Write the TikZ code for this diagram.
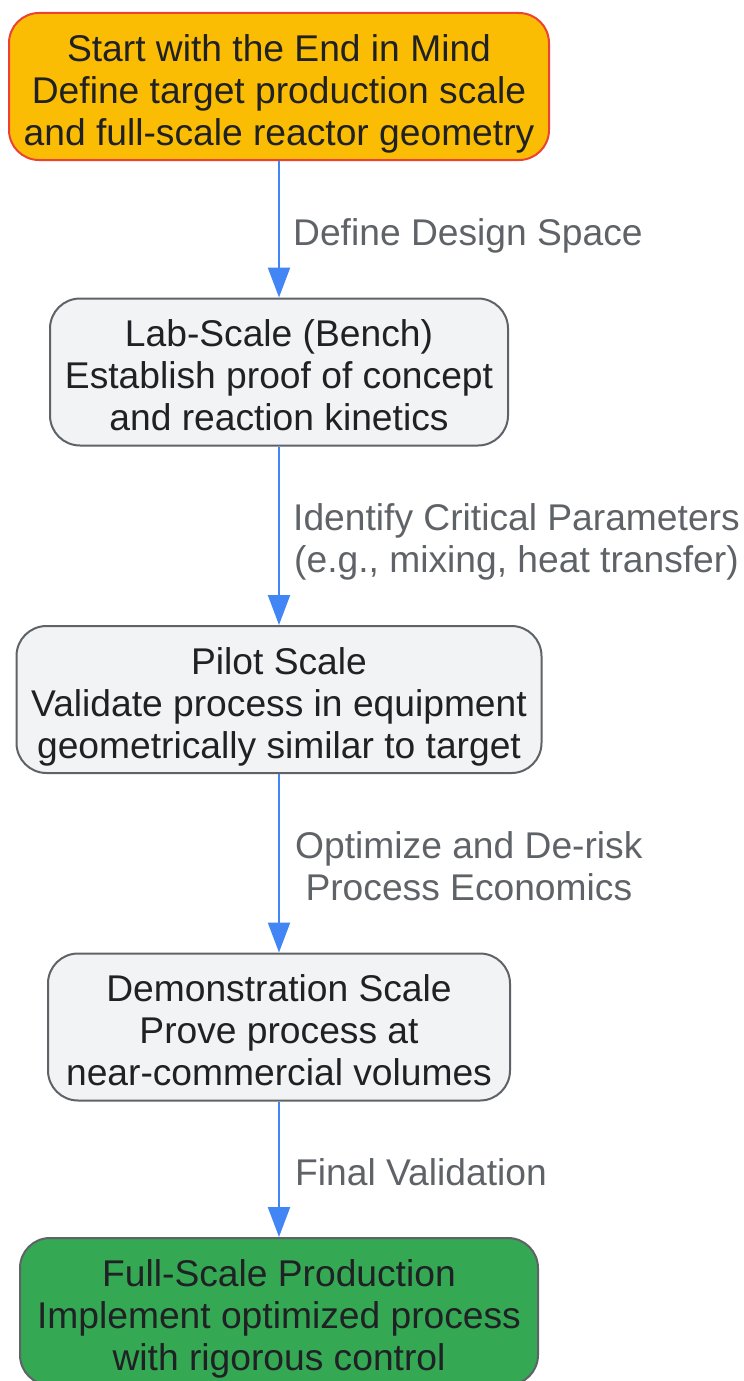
\documentclass[tikz,border=0pt]{standalone}
\usepackage{fontspec}
\setmainfont{Liberation Sans}
\usetikzlibrary{arrows.meta}
\definecolor{orangefill}{HTML}{FBBC04}
\definecolor{redborder}{HTML}{EA4335}
\definecolor{grayfill}{HTML}{F1F3F4}
\definecolor{grayborder}{HTML}{5F6368}
\definecolor{greenfill}{HTML}{34A853}
\definecolor{darktext}{HTML}{202124}
\definecolor{labeltext}{HTML}{5F6368}
\definecolor{arrowblue}{HTML}{4285F4}
\tikzset{
  box/.style={draw=grayborder, fill=grayfill, line width=2pt, rounded corners=30pt,
    align=center, text=darktext, inner sep=0pt, minimum height=147pt,
    text height=117pt, text depth=0pt,
    font=\fontsize{37.2}{42}\selectfont},
  startbox/.style={box, fill=orangefill, draw=redborder},
  endbox/.style={box, fill=greenfill},
  flow/.style={draw=arrowblue, line width=2.2pt, -{Triangle[width=22pt,length=30pt]}},
  lbl/.style={anchor=west, inner sep=0pt, align=center, text=labeltext,
    font=\fontsize{37.2}{42}\selectfont}
}
\begin{document}
\begin{tikzpicture}[x=1pt,y=-1pt]
\useasboundingbox (0,0) rectangle (744,1381);
\node[startbox, minimum width=540pt] (start) at (279,86.5)
  {Start with the End in Mind\\Define target production scale\\and full-scale reactor geometry};
\node[box, minimum width=458pt] (lab) at (279,372)
  {Lab-Scale (Bench)\\Establish proof of concept\\and reaction kinetics};
\node[box, minimum width=525pt] (pilot) at (279,699.5)
  {Pilot Scale\\Validate process in equipment\\geometrically similar to target};
\node[box, minimum width=462pt] (demo) at (279,1027)
  {Demonstration Scale\\Prove process at\\near-commercial volumes};
\node[endbox, minimum width=518pt] (full) at (279,1311.5)
  {Full-Scale Production\\Implement optimized process\\with rigorous control};
\draw[flow] (start.south) -- (lab.north) coordinate[pos=0.5] (m1);
\draw[flow] (lab.south) -- (pilot.north) coordinate[pos=0.5] (m2);
\draw[flow] (pilot.south) -- (demo.north) coordinate[pos=0.5] (m3);
\draw[flow] (demo.south) -- (full.north) coordinate[pos=0.5] (m4);
\node[lbl] (l1) at ([xshift=14pt,yshift=-7pt]m1) {Define Design Space};
\node[lbl] (l2) at ([xshift=14pt,yshift=-6pt]m2) {Identify Critical Parameters\\(e.g., mixing, heat transfer)};
\node[lbl] (l3) at ([xshift=16pt,yshift=-3pt]m3) {Optimize and De-risk\\Process Economics};
\node[lbl] (l4) at ([xshift=16pt,yshift=-3pt]m4) {Final Validation};
\end{tikzpicture}
\end{document}
